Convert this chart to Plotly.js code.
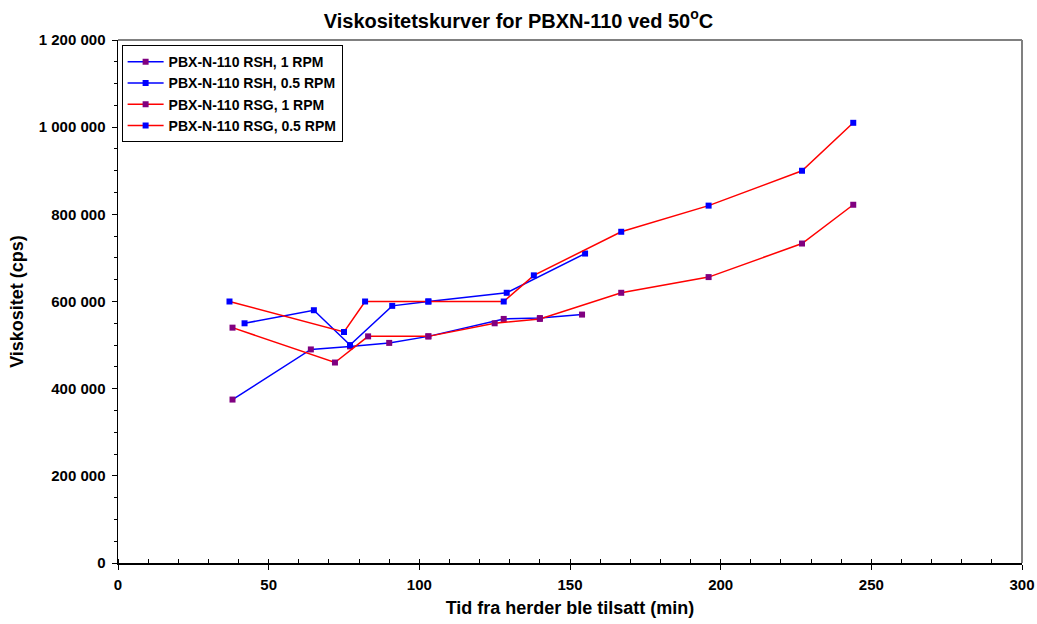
<!DOCTYPE html>
<html>
<head>
<meta charset="utf-8">
<script src="https://cdn.plot.ly/plotly-3.0.1.min.js"></script>
<style>
html,body{margin:0;padding:0;background:#fff;}
#chart{width:1037px;height:624px;}
</style>
</head>
<body>
<div id="chart"></div>
<script>
// Data
const rshX1 = [38, 64, 77, 90, 103, 128, 140, 154];
const rshY1 = [375000, 490000, 497000, 505000, 520000, 560000, 562000, 570000];

const rshX05 = [42, 65, 77, 91, 103, 129, 155];
const rshY05 = [550000, 580000, 500000, 590000, 600000, 620000, 710000];

const rsgX1 = [38, 72, 83, 103, 125, 140, 167, 196, 227, 244];
const rsgY1 = [540000, 460000, 520000, 520000, 550000, 560000, 620000, 656000, 733000, 822000];

const rsgX05 = [37, 75, 82, 103, 128, 138, 167, 196, 227, 244];
const rsgY05 = [600000, 530000, 600000, 600000, 600000, 660000, 760000, 820000, 900000, 1010000];

const seriesNames = [
  "PBX-N-110 RSH, 1 RPM",
  "PBX-N-110 RSH, 0.5 RPM",
  "PBX-N-110 RSG, 1 RPM",
  "PBX-N-110 RSG, 0.5 RPM"
];

const BLUE = "#0000FF", RED = "#FF0000", PURPLE = "#800080";
const FONT = "Liberation Sans, Arial, sans-serif";

function trace(x, y, name, lineColor, markerColor) {
  return {
    x: x, y: y, name: name, type: "scatter", mode: "lines+markers",
    line: {color: lineColor, width: 1.5},
    marker: {symbol: "square", size: 6, color: markerColor}
  };
}

const data = [
  trace(rshX1, rshY1, seriesNames[0], BLUE, PURPLE),
  trace(rshX05, rshY05, seriesNames[1], BLUE, BLUE),
  trace(rsgX1, rsgY1, seriesNames[2], RED, PURPLE),
  trace(rsgX05, rsgY05, seriesNames[3], RED, BLUE)
];

const layout = {
  width: 1037, height: 624,
  margin: {l: 118, r: 15, t: 40, b: 61},
  paper_bgcolor: "#fff", plot_bgcolor: "#fff",
  separators: ", ",
  font: {family: FONT, color: "#000"},
  title: {
    text: "<b>Viskositetskurver for PBXN-110 ved 50<sup>o</sup>C</b>",
    font: {family: FONT, size: 20, color: "#000"},
    xref: "container", x: 0.5, xanchor: "center",
    yref: "container", y: 0.967, yanchor: "middle"
  },
  xaxis: {
    range: [0, 300], dtick: 50, tick0: 0,
    showgrid: false, zeroline: false,
    showline: true, linecolor: "#000", linewidth: 1.5,
    ticks: "outside", ticklen: 5, tickcolor: "#000", tickwidth: 1,
    minor: {dtick: 10, ticks: "inside", ticklen: 4, tickcolor: "#000", showgrid: false},
    tickfont: {family: FONT, size: 15, color: "#000"},
    tickprefix: "<b>", ticksuffix: "</b>",
    ticklabelstandoff: 2,
    title: {text: "<b>Tid fra herder ble tilsatt (min)</b>", font: {family: FONT, size: 18, color: "#000"}, standoff: 10}
  },
  yaxis: {
    range: [0, 1200000], dtick: 200000, tick0: 0,
    tickformat: ",.0f",
    showgrid: false, zeroline: false,
    showline: true, linecolor: "#000", linewidth: 1.5,
    ticks: "outside", ticklen: 5, tickcolor: "#000", tickwidth: 1,
    minor: {dtick: 50000, ticks: "outside", ticklen: 3, tickcolor: "#000", showgrid: false},
    tickfont: {family: FONT, size: 15, color: "#000"},
    tickprefix: "<b>", ticksuffix: "</b>",
    ticklabelstandoff: 3,
    title: {text: "<b>Viskositet (cps)</b>", font: {family: FONT, size: 18, color: "#000"}, standoff: 10}
  },
  legend: {
    x: 0.004, y: 0.99, xanchor: "left", yanchor: "top",
    bgcolor: "#fff", bordercolor: "#000", borderwidth: 1,
    font: {family: FONT, size: 14, weight: 700, color: "#000"},
    tracegroupgap: 0, itemwidth: 36
  },
  shapes: [
    {type: "line", xref: "paper", yref: "paper", x0: 0, x1: 1, y0: 1, y1: 1, line: {color: "#808080", width: 2}},
    {type: "line", xref: "paper", yref: "paper", x0: 1, x1: 1, y0: 0, y1: 1, line: {color: "#808080", width: 2}}
  ],
  showlegend: true
};

Plotly.newPlot("chart", data, layout, {displayModeBar: false, staticPlot: true});
</script>
</body>
</html>
